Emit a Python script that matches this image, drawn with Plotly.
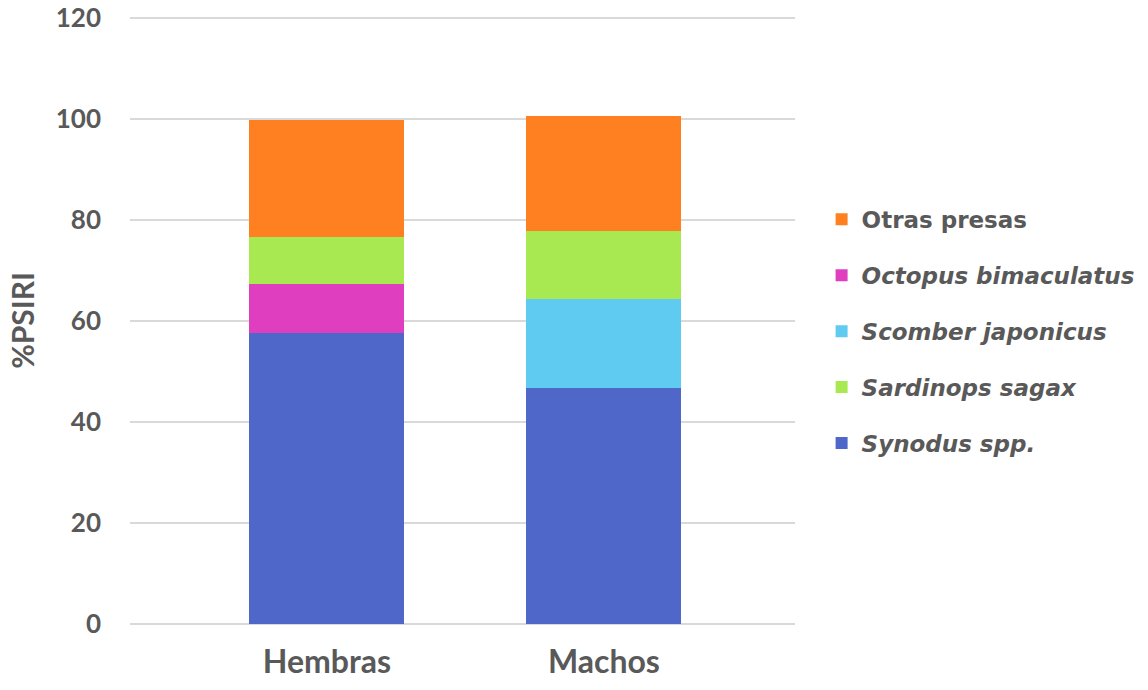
import plotly.graph_objects as go

categories = ["Hembras", "Machos"]
series_names = ["Synodus spp.", "Octopus bimaculatus", "Scomber japonicus", "Sardinops sagax", "Otras presas"]
synodus = [57.6, 46.8]
octopus = [9.7, 0.0]
scomber = [0.0, 17.5]
sardinops = [9.3, 13.5]
otras = [23.2, 22.7]
colors = ["#4F67C8", "#DF3FBE", "#5FCBF1", "#A8E951", "#FF8021"]
legend_ranks = [5, 2, 3, 4, 1]
y_ticks = [0, 20, 40, 60, 80, 100, 120]

values = [synodus, octopus, scomber, sardinops, otras]

fig = go.Figure()
for name, vals, col, rank in zip(series_names, values, colors, legend_ranks):
    label = name if name == "Otras presas" else f"<i>{name}</i>"
    fig.add_trace(go.Bar(
        x=categories, y=vals, name=label, marker_color=col,
        marker_line_width=0, width=0.56, legendrank=rank, legendgroup=name,
    ))

fig.update_layout(
    barmode="stack",
    width=1148, height=690,
    margin=dict(l=130, r=353, t=17, b=66, autoexpand=False),
    plot_bgcolor="white", paper_bgcolor="white",
    font=dict(family="Lato", color="#595959"),
    legend=dict(
        x=1.04, y=0.702, xanchor="left", yanchor="top",
        font=dict(size=23, color="#595959", family="DejaVu Sans", weight="bold"),
        tracegroupgap=23, itemwidth=30,
    ),
    xaxis=dict(
        range=[-0.711, 1.69], showgrid=False, showline=False, automargin=False,
        tickfont=dict(size=32, family="Lato", color="#595959", weight="bold"),
        ticklabelstandoff=16,
    ),
    yaxis=dict(
        range=[0, 120.2], tickvals=y_ticks, showgrid=True, gridcolor="#D9D9D9", gridwidth=1.5,
        zeroline=True, zerolinecolor="#D9D9D9", zerolinewidth=1.5, automargin=False,
        tickfont=dict(size=26, family="Lato", color="#595959", weight="bold"),
        ticklabelstandoff=28,
        title=dict(text="%PSIRI", font=dict(size=30, family="Lato", color="#595959", weight="bold"), standoff=12),
    ),
)

fig.write_html("out.html")
